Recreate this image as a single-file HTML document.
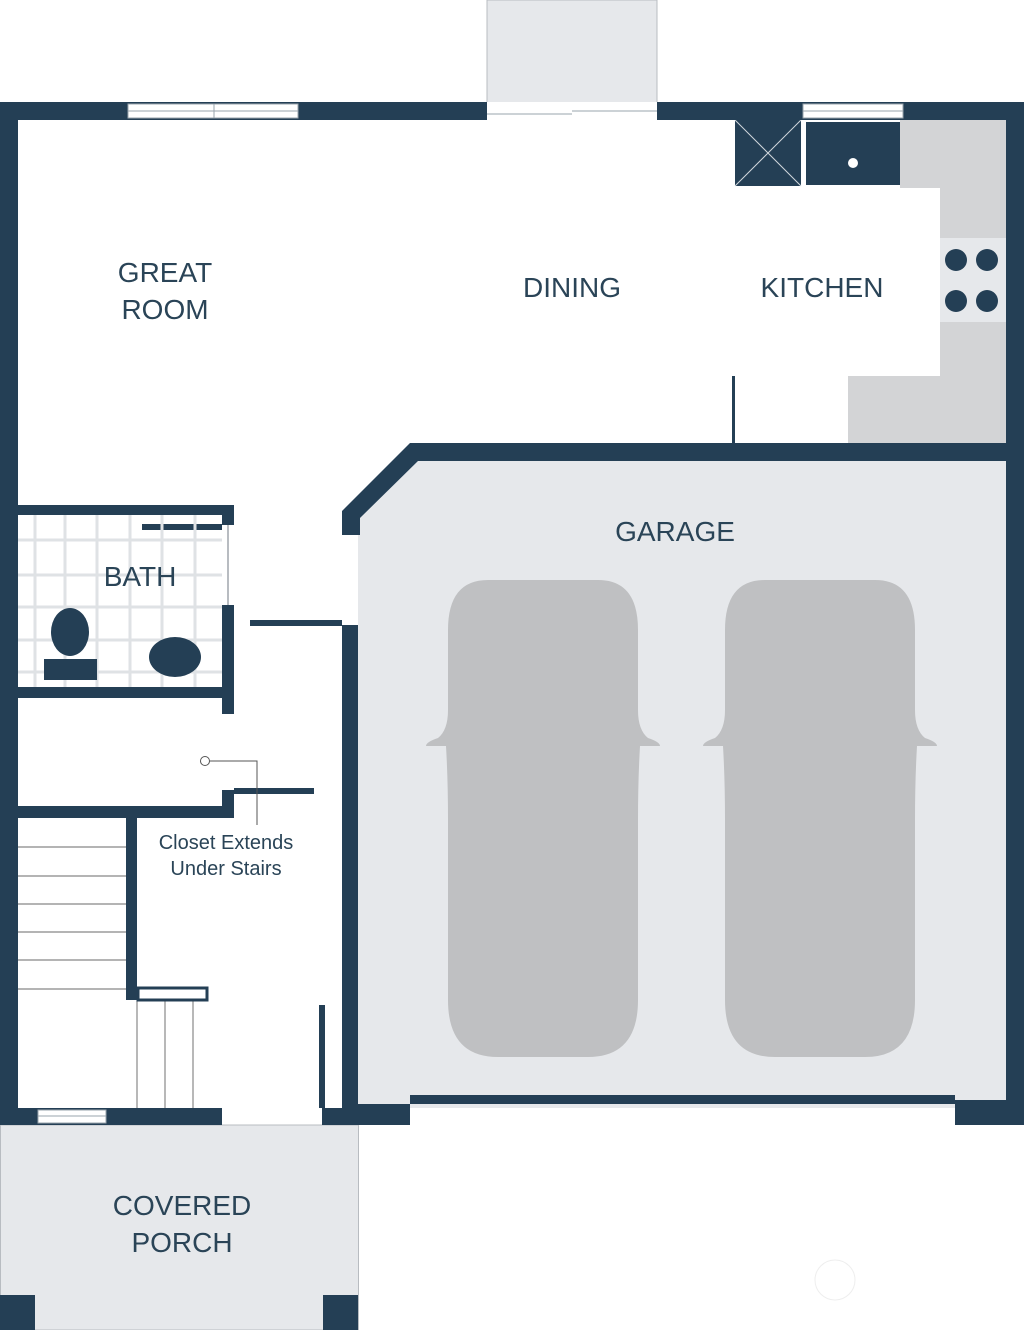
<!DOCTYPE html>
<html><head><style>html,body{margin:0;padding:0;background:#fff}svg{display:block}
text{font-family:"Liberation Sans",sans-serif;fill:#2a4457}</style></head><body>
<svg width="1024" height="1330" viewBox="0 0 1024 1330" xmlns="http://www.w3.org/2000/svg">
<defs>
<path id="car" d="M40,0 H150 Q190,0 190,50 V130 Q190,150 200,158 Q212,162 212,166 H192 Q190,200 190,240 V420 Q190,477 140,477 H50 Q0,477 0,420 V240 Q0,200 -2,166 H-22 Q-22,162 -10,158 Q0,150 0,130 V50 Q0,0 40,0 Z"/>
</defs>
<rect x="487" y="0" width="170" height="118" fill="#e6e8eb" stroke="#b8bcc1" stroke-width="1"/>
<polygon points="418,461 1010,461 1010,1108 358,1108 358,520" fill="#e6e8eb"/>
<rect x="0.5" y="1125" width="358" height="205" fill="#e6e8eb" stroke="#b8bcc1"/>
<rect x="0" y="1295" width="35" height="35" fill="#243f55"/>
<rect x="323" y="1295" width="35" height="35" fill="#243f55"/>
<path d="M900,120 H1006 V443 H848 V376 H940 V188 H900 Z" fill="#d3d4d6"/>
<rect x="940" y="238" width="66" height="84" fill="#e6e8eb"/>
<g fill="#243f55"><circle cx="956" cy="260" r="11"/><circle cx="987" cy="260" r="11"/><circle cx="956" cy="301" r="11"/><circle cx="987" cy="301" r="11"/></g>
<rect x="735" y="120" width="66" height="66" fill="#243f55"/>
<path d="M735,120 L801,186 M801,120 L735,186" stroke="#d0d6dc" stroke-width="1"/>
<rect x="806" y="122" width="94" height="63" fill="#243f55"/>
<circle cx="853" cy="163" r="5" fill="#fff"/>
<rect x="732" y="376" width="3" height="67" fill="#243f55"/>
<g fill="#243f55">
<rect x="0" y="102" width="1024" height="18"/>
<rect x="0" y="102" width="18" height="1023"/>
<rect x="1006" y="102" width="18" height="1023"/>
<polygon points="410,443 1024,443 1024,461 418,461 360,518 360,535 342,535 342,511"/>
<rect x="342" y="625" width="16" height="483"/>
<rect x="250" y="620" width="92" height="6"/>
<rect x="18" y="505" width="216" height="10"/>
<rect x="222" y="505" width="12" height="20"/>
<rect x="222" y="605" width="12" height="109"/>
<rect x="18" y="687" width="204" height="11"/>
<rect x="142" y="524" width="80" height="6"/>
<rect x="18" y="806" width="216" height="12"/>
<rect x="222" y="790" width="12" height="20"/>
<rect x="234" y="788" width="80" height="6"/>
<rect x="126" y="818" width="11" height="182"/>
<rect x="319" y="1005" width="6" height="103"/>
<rect x="0" y="1108" width="222" height="17"/>
<rect x="322" y="1108" width="88" height="17"/>
<rect x="410" y="1095" width="545" height="9"/>
<rect x="955" y="1100" width="69" height="25"/>
<rect x="358" y="1104" width="52" height="21"/>
</g>
<g fill="#fff" stroke="#9aa4ad" stroke-width="1">
<rect x="128" y="104" width="170" height="14"/><line x1="128" y1="111" x2="298" y2="111"/><line x1="214" y1="104" x2="214" y2="118"/>
<rect x="803" y="104" width="100" height="14"/><line x1="803" y1="111" x2="903" y2="111"/>
<rect x="38" y="1110" width="68" height="13"/><line x1="38" y1="1116" x2="106" y2="1116"/>
</g>
<rect x="487" y="102" width="170" height="18" fill="#fff"/>
<line x1="487" y1="114" x2="572" y2="114" stroke="#9aa4ad"/><line x1="572" y1="111" x2="657" y2="111" stroke="#9aa4ad"/>
<g stroke="#dfe2e5" stroke-width="3">
<line x1="35" y1="515" x2="35" y2="687"/><line x1="65" y1="515" x2="65" y2="687"/><line x1="97" y1="515" x2="97" y2="687"/><line x1="130" y1="515" x2="130" y2="687"/><line x1="162" y1="515" x2="162" y2="687"/><line x1="195" y1="515" x2="195" y2="687"/>
<line x1="18" y1="540" x2="222" y2="540"/><line x1="18" y1="575" x2="222" y2="575"/><line x1="18" y1="607" x2="222" y2="607"/><line x1="18" y1="640" x2="222" y2="640"/><line x1="18" y1="672" x2="222" y2="672"/>
</g>
<line x1="228" y1="525" x2="228" y2="605" stroke="#b8bcc1" stroke-width="2"/>
<ellipse cx="70" cy="632" rx="19" ry="24" fill="#243f55"/>
<rect x="44" y="659" width="53" height="21" fill="#243f55"/>
<ellipse cx="175" cy="657" rx="26" ry="20" fill="#243f55"/>
<circle cx="205" cy="761" r="4.5" fill="#fff" stroke="#555" stroke-width="1"/>
<path d="M210,761 H257 V825" fill="none" stroke="#555" stroke-width="1"/>
<g stroke="#888" stroke-width="1.2">
<line x1="18" y1="847" x2="126" y2="847"/><line x1="18" y1="876" x2="126" y2="876"/><line x1="18" y1="904" x2="126" y2="904"/><line x1="18" y1="932" x2="126" y2="932"/><line x1="18" y1="960" x2="126" y2="960"/><line x1="18" y1="989" x2="126" y2="989"/>
<line x1="137" y1="1001" x2="137" y2="1108"/><line x1="165" y1="1001" x2="165" y2="1108"/><line x1="193" y1="1001" x2="193" y2="1108"/>
</g>
<rect x="138" y="988" width="69" height="12" fill="#fff" stroke="#243f55" stroke-width="3"/>
<use href="#car" x="448" y="580" fill="#bfc0c2"/>
<use href="#car" x="725" y="580" fill="#bfc0c2"/>
<circle cx="835" cy="1280" r="20" fill="none" stroke="#eee"/>
<g font-size="28" text-anchor="middle">
<text x="165" y="282">GREAT</text><text x="165" y="319">ROOM</text>
<text x="572" y="297">DINING</text>
<text x="822" y="297">KITCHEN</text>
<text x="675" y="541">GARAGE</text>
<text x="140" y="586">BATH</text>
<text x="182" y="1215">COVERED</text><text x="182" y="1252">PORCH</text>
</g>
<g font-size="20" text-anchor="middle">
<text x="226" y="849">Closet Extends</text><text x="226" y="875">Under Stairs</text>
</g>
</svg>
</body></html>
